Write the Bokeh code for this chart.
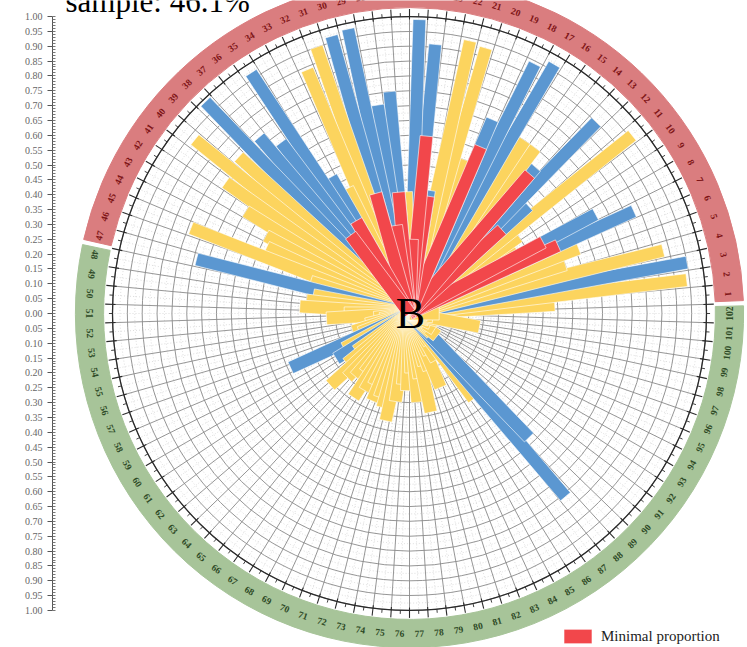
import numpy as np
from bokeh.plotting import figure
from bokeh.models import FixedTicker, CustomJSTickFormatter, ColumnDataSource, Legend, LegendItem, Range1d
from bokeh.core.properties import value
from bokeh.embed import file_html
from bokeh.resources import INLINE

# ---------------- data ----------------
categories = [str(i) for i in range(1, 103)]

bar_group = (["Y", "Y", "B", "Y", "Y", "Y", "B", "B", "Y", "Y",
              "Y", "B", "B", "B", "Y", "Y", "B", "B", "B", "Y",
              "Y", "Y", "B", "B", "B", "Y", "B", "B", "B", "B",
              "Y", "Y", "Y", "B", "B", "B", "B", "B", "Y", "Y",
              "Y", "Y", "Y", "Y", "Y", "Y", "B", "Y", "Y", "Y",
              "Y", "Y", "Y", "Y", "Y", "Y", "Y", "B", "Y", "B",
              "Y", "Y", "Y", "Y", "Y", "Y", "Y", "Y", "Y", "Y",
              "Y", "Y", "Y", "Y", "Y", "Y", "Y", "Y", "Y", "Y",
              "Y", "Y", "Y", "Y", "Y", "Y", "Y", "B", "B", "Y",
              "Y", "Y", "Y", "Y", "Y", "Y", "Y", "Y", "Y", "Y",
              "Y", "Y"])

bar_values = [0.49, 0.94, 0.95, 0.88, 0.55, 0.61, 0.83, 0.71, 0.42, 0.45,
              0.96, 0.54, 0.90, 0.65, 0.70, 0.70, 0.97, 0.94, 0.71, 0.55,
              0.93, 0.94, 0.42, 0.91, 0.99, 0.41, 0.75, 0.71, 0.98, 0.97,
              0.95, 0.89, 0.47, 0.53, 0.97, 0.72, 0.78, 0.99, 0.78, 0.93,
              0.76, 0.65, 0.55, 0.53, 0.79, 0.35, 0.74, 0.33, 0.35, 0.37,
              0.22, 0.28, 0.12, 0.10, 0.15, 0.20, 0.18, 0.44, 0.25, 0.29,
              0.22, 0.27, 0.36, 0.30, 0.28, 0.25, 0.34, 0.30, 0.27, 0.32,
              0.30, 0.33, 0.37, 0.30, 0.24, 0.26, 0.20, 0.30, 0.22, 0.34,
              0.18, 0.20, 0.27, 0.15, 0.18, 0.12, 0.36, 0.81, 0.58, 0.10,
              0.12, 0.08, 0.10, 0.06, 0.08, 0.05, 0.07, 0.10, 0.24, 0.08,
              0.06, 0.10]

# minimal proportion (red inner part), 0 = none
red_values = [0, 0, 0, 0, 0, 0, 0.55, 0.51, 0, 0,
              0, 0.42, 0, 0.62, 0, 0, 0, 0, 0.61, 0,
              0, 0, 0.40, 0.60, 0.25, 0, 0.41, 0.30, 0, 0.42,
              0, 0, 0, 0.36, 0, 0.33, 0, 0, 0, 0,
              0, 0, 0, 0, 0, 0, 0, 0, 0, 0,
              0, 0, 0, 0, 0, 0, 0, 0, 0, 0,
              0, 0, 0, 0, 0, 0, 0, 0, 0, 0,
              0, 0, 0, 0, 0, 0, 0, 0, 0, 0,
              0, 0, 0, 0, 0, 0, 0, 0, 0, 0,
              0, 0, 0, 0, 0, 0, 0, 0, 0, 0,
              0, 0]

upper_group_count = 47          # categories on the red ring
title_text = "sample: 46.1%"
center_text = "B"
legend_text = "Minimal proportion"
axis_ticks = [round(-1 + 0.05 * i, 2) for i in range(41)]
axis_minor = [round(-1 + 0.01 * i, 2) for i in range(201)]

# ---------------- styles ----------------
BLUE = "#5B97D1"
YELLOW = "#FCD45E"
RED = "#F2474B"
RING_RED = "#DA7D7F"
RING_GREEN = "#A7C499"
GROUP_COLORS = {"Y": YELLOW, "B": BLUE}

S = 297.0              # px per unit
CX, CY = 409.0, 313.0  # chart centre in canvas pixels
W, H = 747, 647
LEFT = 52

p = figure(width=W, height=H, output_backend="svg", toolbar_location=None,
           x_axis_location=None, y_axis_location="left",
           min_border_left=LEFT, min_border_right=0, min_border_top=0, min_border_bottom=0,
           x_range=Range1d((LEFT - CX) / S, (W - CX) / S),
           y_range=Range1d((CY - H) / S, CY / S))
p.outline_line_color = None
p.background_fill_color = "white"
p.ygrid.visible = False
p.xgrid.visible = False

ax = p.yaxis[0]
ax.ticker = FixedTicker(ticks=axis_ticks, minor_ticks=axis_minor)
ax.formatter = CustomJSTickFormatter(code="return Math.abs(tick).toFixed(2)")
ax.bounds = (-1, 1)
ax.axis_line_color = "#555555"
ax.major_tick_line_color = "#555555"
ax.minor_tick_line_color = "#777777"
ax.major_tick_out = 5
ax.major_tick_in = 0
ax.minor_tick_out = 0
ax.minor_tick_in = 3
ax.major_label_text_font = "Liberation Serif"
ax.major_label_text_font_size = "10px"
ax.major_label_text_color = "#666666"
ax.major_label_standoff = 5

n = len(categories)
slot = 2 * np.pi / n
idx = np.arange(1, n + 1)

# ---------------- grid ----------------
sub_r = np.arange(0.025, 1.0, 0.05)
p.circle(x=np.zeros(len(sub_r)), y=np.zeros(len(sub_r)), radius=sub_r,
         fill_color=None, line_color="#cfcfcf", line_width=0.7, line_dash="1 2")
mid_a = idx * slot
p.segment(x0=0, y0=0, x1=np.cos(mid_a), y1=np.sin(mid_a),
          line_color="#cfcfcf", line_width=0.7, line_dash="1 2")

rings_r = np.arange(0.05, 1.0001, 0.05)
p.circle(x=np.zeros(len(rings_r)), y=np.zeros(len(rings_r)), radius=rings_r,
         fill_color=None, line_color="#8a8a8a", line_width=0.9)
bnd_a = (idx + 0.5) * slot
p.segment(x0=0, y0=0, x1=np.cos(bnd_a), y1=np.sin(bnd_a),
          line_color="#8a8a8a", line_width=0.9)
p.circle(x=[0], y=[0], radius=[1.0], fill_color=None, line_color="#2a2a2a", line_width=1.3)
p.segment(x0=0.99 * np.cos(bnd_a), y0=0.99 * np.sin(bnd_a),
          x1=1.025 * np.cos(bnd_a), y1=1.025 * np.sin(bnd_a),
          line_color="#2a2a2a", line_width=1.1)
p.segment(x0=1.0 * np.cos(mid_a), y0=1.0 * np.sin(mid_a),
          x1=1.012 * np.cos(mid_a), y1=1.012 * np.sin(mid_a),
          line_color="#2a2a2a", line_width=0.9)

# ---------------- outer category ring ----------------
start = 0.5 * slot
split = (upper_group_count + 0.5) * slot
gap = np.deg2rad(0.45)
p.annular_wedge(x=0, y=0, inner_radius=1.03, outer_radius=1.125,
                start_angle=start + gap, end_angle=split - gap, color=RING_RED)
p.annular_wedge(x=0, y=0, inner_radius=1.03, outer_radius=1.125,
                start_angle=split + gap, end_angle=start + 2 * np.pi - gap, color=RING_GREEN)

lab_a = idx * slot
lab_r = 1.077
lab_rot = np.where(idx <= upper_group_count, lab_a - np.pi / 2, lab_a + np.pi / 2)
lab_col = ["#7E1416" if k <= upper_group_count else "#2E4A26" for k in idx]
p.text(x=lab_r * np.cos(lab_a), y=lab_r * np.sin(lab_a), text=categories, angle=lab_rot,
       text_align="center", text_baseline="middle", text_font=value("Liberation Serif"),
       text_font_size="9.5px", text_font_style="bold", text_color=lab_col)

# ---------------- bars ----------------
vals = np.array(bar_values)
bar_a = (idx - 0.05) * slot
bars = ColumnDataSource(dict(
    x=vals / 2 * np.cos(bar_a), y=vals / 2 * np.sin(bar_a), w=vals, a=bar_a,
    c=[GROUP_COLORS[g] for g in bar_group]))
p.rect(x="x", y="y", width="w", height=0.043, angle="a", fill_color="c",
       line_color="white", line_width=0.6, source=bars)

reds = np.array(red_values)
m = reds > 0
red_src = ColumnDataSource(dict(
    x=reds[m] / 2 * np.cos(bar_a[m]), y=reds[m] / 2 * np.sin(bar_a[m]), w=reds[m], a=bar_a[m]))
red_r = p.rect(x="x", y="y", width="w", height=0.043, angle="a", fill_color=RED,
               line_color="white", line_width=0.6, source=red_src)

# ---------------- texts ----------------
p.text(x=[0.003], y=[0.0], text=[center_text], text_align="center", text_baseline="middle",
       text_font=value("Liberation Serif"), text_font_size="44px", text_color="black")
p.text(x=[(65 - CX) / S], y=[(CY - 1) / S], text=[title_text], text_align="left",
       text_baseline="alphabetic", text_font=value("Liberation Serif"),
       text_font_size="31px", text_color="black")

legend = Legend(items=[LegendItem(label=legend_text, renderers=[red_r])],
                location=(508, 2), glyph_width=35, glyph_height=18,
                label_text_font="Liberation Serif", label_text_font_size="15px",
                label_text_color="#222222", background_fill_alpha=0,
                border_line_alpha=0, padding=0, margin=0, spacing=0, label_standoff=6,
                label_height=18)
p.add_layout(legend)

open("out.html", "w").write(file_html(p, INLINE))
